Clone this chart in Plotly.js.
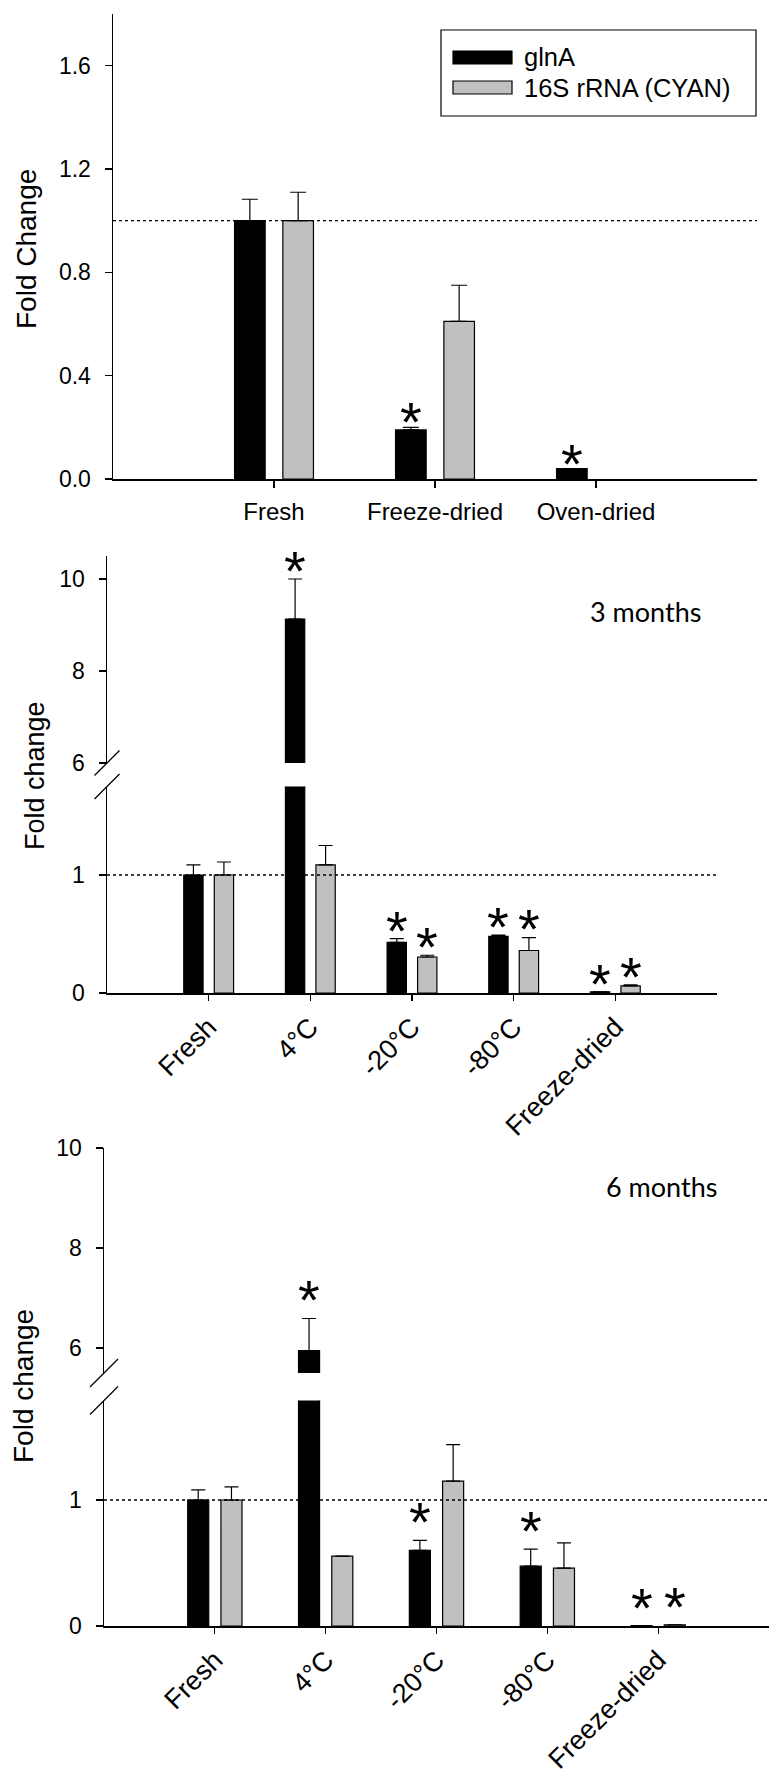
<!DOCTYPE html>
<html><head><meta charset="utf-8">
<script src="https://cdn.plot.ly/plotly-3.0.1.min.js"></script>
<style>html,body{margin:0;padding:0;background:#fff;} #chart{width:769px;height:1775px;}</style>
</head><body><div id="chart"></div>
<script>
// ---------- DATA ----------
// Panel A (processing)
const catsA = ['Fresh', 'Freeze-dried', 'Oven-dried'];
const glnA_A = [1.0, 0.19, 0.04];
const glnA_A_err = [0.083, 0.01, 0];
const glnA_A_sig = [false, true, true];
const rrna_A = [1.0, 0.61, 0];
const rrna_A_err = [0.11, 0.14, 0];
const rrna_A_sig = [false, false, false];
const yTicksA = [0.0, 0.4, 0.8, 1.2, 1.6];
const yTickTextA = ['0.0', '0.4', '0.8', '1.2', '1.6'];

// Panel B (3 months storage)
const catsB = ['Fresh', '4°C', '-20°C', '-80°C', 'Freeze-dried'];
const glnA_B = [1.0, 9.13, 0.43, 0.48, 0.01];
const glnA_B_err = [0.085, 0.87, 0.03, 0.01, 0];
const glnA_B_sig = [false, true, true, true, true];
const rrna_B = [1.0, 1.085, 0.305, 0.36, 0.06];
const rrna_B_err = [0.11, 0.165, 0.015, 0.11, 0.01];
const rrna_B_sig = [false, false, true, true, true];

// Panel C (6 months storage)
const catsC = ['Fresh', '4°C', '-20°C', '-80°C', 'Freeze-dried'];
const glnA_C = [1.0, 5.95, 0.60, 0.475, 0.003];
const glnA_C_err = [0.08, 0.64, 0.08, 0.135, 0];
const glnA_C_sig = [false, true, true, true, true];
const rrna_C = [1.0, 0.555, 1.15, 0.46, 0.01];
const rrna_C_err = [0.105, 0, 0.29, 0.2, 0];
const rrna_C_sig = [false, false, false, false, true];

const yTicksLow = [0, 1];
const yTicksHigh = [6, 8, 10];
const seriesNames = ['glnA', '16S rRNA (CYAN)'];
const panelLabels = ['3 months', '6 months'];
const yTitles = ['Fold Change', 'Fold change', 'Fold change'];

// ---------- STYLE / GEOMETRY ----------
const W = 769, H = 1775;
const px = v => v / W;
const py = v => 1 - v / H;
const BLACK = '#000000', GREY = '#c0c0c0';
const FONT = 'Liberation Sans, Arial, Helvetica, sans-serif';
const BW = 0.19, OFF_G = -0.245, OFF_R = 0.055;

const traces = [];
const annotations = [];
const shapes = [];

function addBars(cats, vals, errs, color, offset, xa, ya, capw) {
  traces.push({
    type: 'bar', x: cats.map((c, i) => i), y: vals, xaxis: xa, yaxis: ya,
    width: BW, offset: offset,
    marker: {color: color, line: {color: BLACK, width: vals.map(v => v > 0 ? 1.2 : 0)}},
    error_y: {type: 'data', symmetric: false,
              array: errs.map((e, i) => vals[i] > 0 ? e : NaN),
              arrayminus: errs.map((e, i) => vals[i] > 0 ? 0 : NaN),
              color: BLACK, thickness: 1.2, width: capw},
    showlegend: false, hoverinfo: 'skip'
  });
}

// asterisk helper: pick axis (low/high) depending on value
const STAR_SIZE = 56;
function addStars(cats, vals, errs, sig, offset, xa, yaLow, lowMax, yaHigh, gap) {
  cats.forEach((c, i) => {
    if (!sig[i]) return;
    const top = vals[i] + errs[i];
    const useHigh = yaHigh && top > lowMax;
    annotations.push({
      xref: xa, yref: useHigh ? yaHigh : yaLow,
      x: i + offset + BW / 2, y: top, text: '*', showarrow: false,
      yanchor: 'bottom', xanchor: 'center', yshift: gap + 6 - 0.624 * STAR_SIZE - 1,
      font: {family: FONT, size: STAR_SIZE, color: BLACK}
    });
  });
}

function baseY(extra) {
  return Object.assign({
    showline: true, linecolor: BLACK, linewidth: 1.5, showgrid: false, zeroline: false,
    ticks: 'outside', ticklen: 7, tickwidth: 1.2, tickcolor: BLACK,
    tickfont: {family: FONT, size: 23, color: BLACK}, ticklabelstandoff: 9,
    fixedrange: true
  }, extra);
}
function baseX(extra) {
  return Object.assign({
    type: 'linear', showline: true, linecolor: BLACK, linewidth: 1.5, showgrid: false, zeroline: false,
    ticks: 'outside', ticklen: 7, tickwidth: 1.2, tickcolor: BLACK,
    tickfont: {family: FONT, size: 24, color: BLACK}, fixedrange: true
  }, extra);
}

// ---------- Panel A ----------
addBars(catsA, glnA_A, glnA_A_err, BLACK, OFF_G, 'x', 'y', 8);
addBars(catsA, rrna_A, rrna_A_err, GREY, OFF_R, 'x', 'y', 8);
addStars(catsA, glnA_A, glnA_A_err, glnA_A_sig, OFF_G, 'x', 'y', 99, null, 2);
addStars(catsA, rrna_A, rrna_A_err, rrna_A_sig, OFF_R, 'x', 'y', 99, null, 2);

// ---------- Panel B ----------
const lowMaxB = 1.75;
['y2', 'y3'].forEach(ya => {
  addBars(catsB, glnA_B, glnA_B_err, BLACK, OFF_G, 'x2', ya, 7);
  addBars(catsB, rrna_B, rrna_B_err, GREY, OFF_R, 'x2', ya, 7);
});
addStars(catsB, glnA_B, glnA_B_err, glnA_B_sig, OFF_G, 'x2', 'y2', lowMaxB, 'y3', 5);
addStars(catsB, rrna_B, rrna_B_err, rrna_B_sig, OFF_R, 'x2', 'y2', lowMaxB, 'y3', 5);

// ---------- Panel C ----------
const lowMaxC = 1.79;
['y4', 'y5'].forEach(ya => {
  addBars(catsC, glnA_C, glnA_C_err, BLACK, OFF_G, 'x3', ya, 7);
  addBars(catsC, rrna_C, rrna_C_err, GREY, OFF_R, 'x3', ya, 7);
});
addStars(catsC, glnA_C, glnA_C_err, glnA_C_sig, OFF_G, 'x3', 'y4', lowMaxC, 'y5', 15);
addStars(catsC, rrna_C, rrna_C_err, rrna_C_sig, OFF_R, 'x3', 'y4', lowMaxC, 'y5', 15);

// ---------- axes domains ----------
const domA_x = [px(113), px(757)], domA_y = [py(479), py(14)];
const domB_x = [px(107), px(717)], domB_lo = [py(993), py(786.5)], domB_hi = [py(763), py(556)];
const domC_x = [px(104), 1], domC_lo = [py(1626), py(1400.5)], domC_hi = [py(1373), py(1148)];

// dotted reference lines at 1
[['x', 'y'], ['x2', 'y2'], ['x3', 'y4']].forEach(([xa, ya]) => {
  shapes.push({type: 'line', xref: xa + ' domain', yref: ya, x0: 0, x1: 1, y0: 1, y1: 1,
               line: {color: BLACK, width: 1.3, dash: 'dot'}, layer: 'above'});
});

// axis break slashes (centred on the segment ends)
function breakMarks(xDom0, yLoTop, yHiBottom, half) {
  [yLoTop, yHiBottom].forEach(yc => {
    const xc = xDom0 * W;
    const ycp = (1 - yc) * H;
    shapes.push({type: 'line', xref: 'paper', yref: 'paper',
      x0: px(xc - half), y0: py(ycp + half), x1: px(xc + half), y1: py(ycp - half),
      line: {color: BLACK, width: 1.3}});
  });
}
breakMarks(domB_x[0], domB_lo[1], domB_hi[0], 12.5);
breakMarks(domC_x[0], domC_lo[1], domC_hi[0], 14);

// legend (drawn manually: wide swatches)
shapes.push({type: 'rect', xref: 'paper', yref: 'paper', x0: px(441), x1: px(756), y0: py(116), y1: py(30),
             line: {color: BLACK, width: 1.2}, fillcolor: 'rgba(0,0,0,0)'});
[[BLACK, 51, 64], [GREY, 81, 94]].forEach(([col, t, b], k) => {
  shapes.push({type: 'rect', xref: 'paper', yref: 'paper', x0: px(453), x1: px(512), y0: py(b), y1: py(t),
               line: {color: BLACK, width: 1.2}, fillcolor: col});
  annotations.push({xref: 'paper', yref: 'paper', x: px(522), y: py((t + b) / 2), xanchor: 'left', yanchor: 'middle',
                    text: seriesNames[k], showarrow: false, font: {family: FONT, size: 25.5, color: BLACK}});
});

// panel labels
annotations.push({xref: 'paper', yref: 'paper', x: px(645), y: py(612), text: panelLabels[0], showarrow: false,
                  xanchor: 'center', yanchor: 'middle', font: {family: 'Lato, Open Sans, sans-serif', size: 27, color: BLACK}});
annotations.push({xref: 'paper', yref: 'paper', x: px(661), y: py(1186), text: panelLabels[1], showarrow: false,
                  xanchor: 'center', yanchor: 'middle', font: {family: 'Lato, Open Sans, sans-serif', size: 27, color: BLACK}});

// y titles
[[27, 249, 28], [35, 776, 27], [23, 1386, 28]].forEach(([x, y, s], k) => {
  annotations.push({xref: 'paper', yref: 'paper', x: px(x), y: py(y), text: yTitles[k], textangle: -90,
                    showarrow: false, xanchor: 'center', yanchor: 'middle', font: {family: FONT, size: s, color: BLACK}});
});

const rotFont = {family: FONT, size: 27, color: BLACK};
const layout = {
  width: W, height: H, margin: {l: 0, r: 0, t: 0, b: 0, pad: 0},
  paper_bgcolor: '#ffffff', plot_bgcolor: 'rgba(0,0,0,0)',
  showlegend: false, barmode: 'overlay',
  font: {family: FONT, color: BLACK},
  xaxis: baseX({domain: domA_x, range: [-1, 3], anchor: 'y', tickvals: catsA.map((c, i) => i), ticktext: catsA,
                tickangle: 0, ticklabelstandoff: 4}),
  yaxis: baseY({domain: domA_y, range: [0, 1.8], anchor: 'x', tickvals: yTicksA, ticktext: yTickTextA}),
  xaxis2: baseX({domain: domB_x, range: [-1, 5], anchor: 'y2', tickvals: catsB.map((c, i) => i), ticktext: catsB,
                 tickangle: -45, ticklen: 6, tickfont: rotFont}),
  yaxis2: baseY({domain: domB_lo, range: [0, lowMaxB], anchor: 'x2', tickvals: yTicksLow}),
  yaxis3: baseY({domain: domB_hi, range: [6, 10.5], anchor: 'x2', tickvals: yTicksHigh}),
  xaxis3: baseX({domain: domC_x, range: [-1, 5], anchor: 'y4', tickvals: catsC.map((c, i) => i), ticktext: catsC,
                 tickangle: -45, ticklen: 6, tickfont: rotFont}),
  yaxis4: baseY({domain: domC_lo, range: [0, lowMaxC], anchor: 'x3', tickvals: yTicksLow}),
  yaxis5: baseY({domain: domC_hi, range: [5.5, 10], anchor: 'x3', tickvals: yTicksHigh}),
  annotations: annotations, shapes: shapes
};

Plotly.newPlot('chart', traces, layout, {staticPlot: true, displayModeBar: false});
</script></body></html>
